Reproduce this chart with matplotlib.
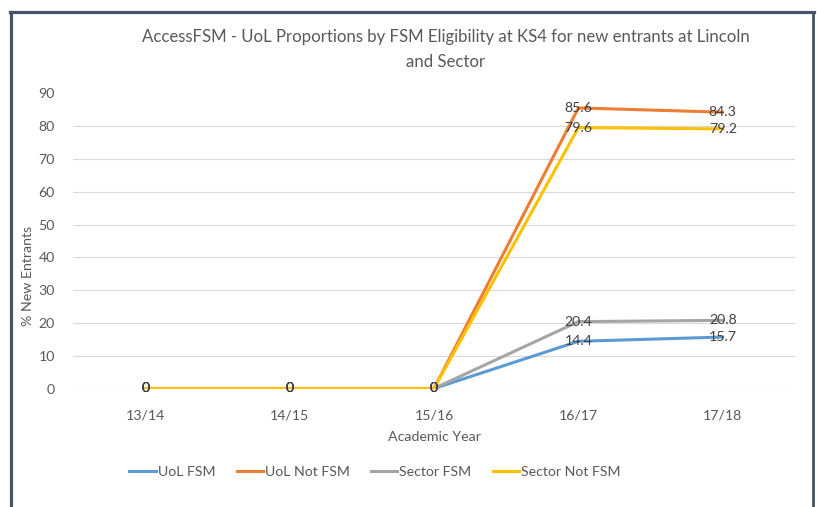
import matplotlib
matplotlib.use("Agg")
import matplotlib.pyplot as plt
from matplotlib.lines import Line2D

plt.rcParams['font.family'] = ['Lato', 'DejaVu Sans']

years = ["13/14", "14/15", "15/16", "16/17", "17/18"]
uol_fsm = [0, 0, 0, 14.4, 15.7]
uol_not_fsm = [0, 0, 0, 85.6, 84.3]
sector_fsm = [0, 0, 0, 20.4, 20.8]
sector_not_fsm = [0, 0, 0, 79.6, 79.2]
series_names = ["UoL FSM", "UoL Not FSM", "Sector FSM", "Sector Not FSM"]
colors = ["#5B9BD5", "#ED7D31", "#A5A5A5", "#FFC000"]
yticks = [0, 10, 20, 30, 40, 50, 60, 70, 80, 90]

W, H = 817, 507
fig = plt.figure(figsize=(W / 100, H / 100), dpi=100)
fig.patch.set_facecolor("white")
ax = fig.add_axes([73 / W, 1 - 388.5 / H, (795 - 73) / W, (388.5 - 93.5) / H])

x = list(range(len(years)))
all_series = [uol_fsm, uol_not_fsm, sector_fsm, sector_not_fsm]
for vals, name, c in zip(all_series, series_names, colors):
    ax.plot(x, vals, color=c, lw=2.2, label=name, zorder=3, solid_capstyle='round')

for vals in all_series:
    for xi, v in zip(x, vals):
        lbl = "0" if v == 0 else f"{v:.1f}"
        ax.text(xi, v, lbl, ha="center", va="center", fontsize=10.2,
                color="#404040", zorder=5)

ax.set_xlim(-0.5, len(years) - 0.5)
ax.set_ylim(0, 90)
ax.set_xticks(x)
ax.set_xticklabels(years)
ax.set_yticks(yticks)
ax.tick_params(axis='both', length=0, labelsize=10.2, labelcolor="#595959")
ax.tick_params(axis='x', pad=15)
ax.tick_params(axis='y', pad=13)
ax.grid(axis='y', color="#D9D9D9", lw=0.8)
ax.set_axisbelow(True)
for s in ax.spines.values():
    s.set_visible(False)

fig.text(446 / W, 1 - 37 / H, "AccessFSM - UoL Proportions by FSM Eligibility at KS4 for new entrants at Lincoln",
         ha="center", va="center", fontsize=12.1, color="#595959")
fig.text(446 / W, 1 - 62 / H, "and Sector", ha="center", va="center",
         fontsize=12.1, color="#595959")
fig.text(434 / W, 1 - 437 / H, "Academic Year", ha="center", va="center",
         fontsize=10.2, color="#595959")
fig.text(28 / W, 1 - 276 / H, "% New Entrants", ha="center", va="center",
         fontsize=10.2, color="#595959", rotation=90)

handles = [Line2D([0], [0], color=c, lw=2.2) for c in colors]
leg = fig.legend(handles, series_names, loc="center", bbox_to_anchor=(375 / W, 1 - 472 / H),
                 ncol=4, frameon=False, fontsize=10.2, handlelength=1.85,
                 handletextpad=0.15, columnspacing=1.5)
for t in leg.get_texts():
    t.set_color("#595959")

# outer frame
fc = "#44546A"
fig.add_artist(Line2D([10.5 / W, 10.5 / W], [0, 1 - 11.5 / H], color=fc, lw=2.3))
fig.add_artist(Line2D([9.5 / W, 813.5 / W], [1 - 11.5 / H, 1 - 11.5 / H], color=fc, lw=2.3))
fig.add_artist(Line2D([812.5 / W, 812.5 / W], [0, 1 - 11.5 / H], color=fc, lw=2.0))

fig.savefig("out.png", dpi=100, facecolor="white")
